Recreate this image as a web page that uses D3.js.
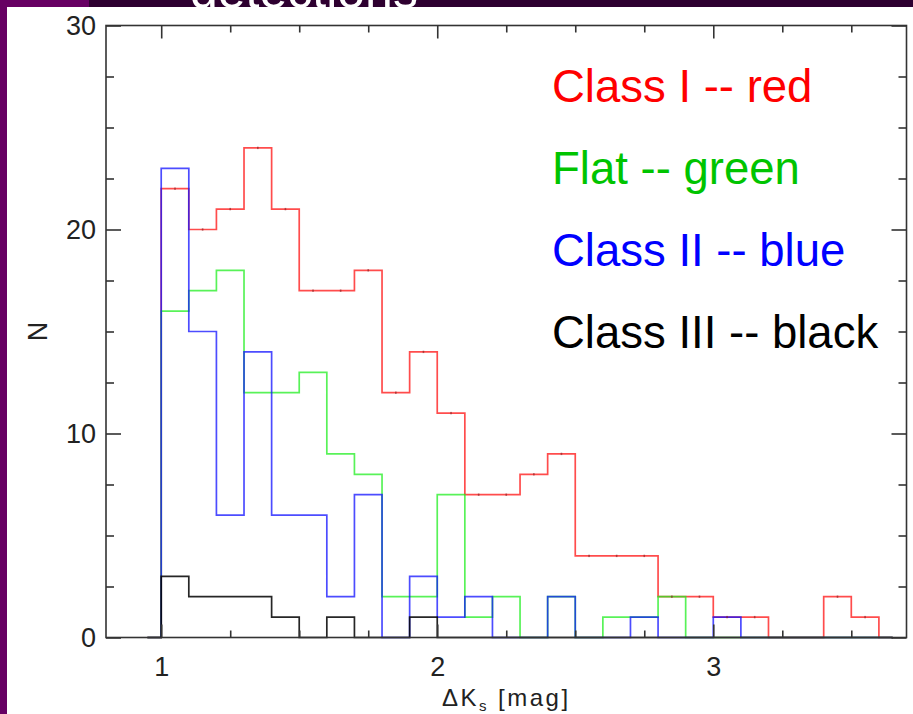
<!DOCTYPE html>
<html>
<head>
<meta charset="utf-8">
<script src="https://cdn.jsdelivr.net/npm/d3@7/dist/d3.min.js"></script>
<style>
  html, body { margin: 0; padding: 0; background: #ffffff; }
  svg { display: block; }
  .tick-label { font-family: "Liberation Sans", "DejaVu Sans", sans-serif; fill: #222; }
</style>
</head>
<body>
<svg id="chart" width="913" height="714"></svg>
<script>
// Histogram bin centres (ΔKs, mag), bin width 0.1
const binCenters = [0.95, 1.05, 1.15, 1.25, 1.35, 1.45, 1.55, 1.65, 1.75, 1.85,
                    1.95, 2.05, 2.15, 2.25, 2.35, 2.45, 2.55, 2.65, 2.75, 2.85,
                    2.95, 3.05, 3.15, 3.25, 3.35, 3.45, 3.55, 3.65];

// Counts per bin for each class
const classI   = [0, 22, 20, 21, 24, 21, 17, 17, 18, 12, 14, 11, 7, 7, 8, 9, 4, 4, 4, 2, 2, 1, 1, 0, 0, 2, 1, 0];
const flat     = [0, 16, 17, 18, 12, 12, 13, 9, 8, 2, 2, 7, 1, 2, 0, 2, 0, 1, 1, 2, 0, 0, 0, 0, 0, 0, 0, 0];
const classII  = [0, 23, 15, 6, 14, 6, 6, 2, 7, 0, 3, 1, 2, 0, 0, 2, 0, 0, 1, 0, 0, 1, 0, 0, 0, 0, 0, 0];
const classIII = [0, 3, 2, 2, 2, 1, 0, 1, 0, 0, 1, 0, 0, 0, 0, 0, 0, 0, 0, 0, 0, 0, 0, 0, 0, 0, 0, 0];

// Axis ticks
const xMajorTicks = [1, 2, 3];
const xMinorTicks = [1.25, 1.5, 1.75, 2.25, 2.5, 2.75, 3.25, 3.5];
const yMajorTicks = [0, 10, 20, 30];
const yMinorTicks = [2.5, 5, 7.5, 12.5, 15, 17.5, 22.5, 25, 27.5];

// Legend entries
const legendLabels = ["Class I -- red", "Flat -- green", "Class II -- blue", "Class III -- black"];
const legendColors = ["#ff0000", "#00c400", "#0000ff", "#000000"];

const series = [
  { name: "Class I",   values: classI,   color: "#ff1010" },
  { name: "Flat",      values: flat,     color: "#20ee20" },
  { name: "Class II",  values: classII,  color: "#1010ff" },
  { name: "Class III", values: classIII, color: "#000000" }
];

const svg = d3.select("#chart");

// Slide frame: purple strips on the left and top
svg.append("rect").attr("x", 0).attr("y", 0).attr("width", 913).attr("height", 714).attr("fill", "#ffffff");
svg.append("rect").attr("x", 89).attr("y", 0).attr("width", 824).attr("height", 7).attr("fill", "#2e0030");
svg.append("text")
  .attr("x", 190).attr("y", 8)
  .attr("font-family", "Liberation Sans, sans-serif")
  .attr("font-size", 50)
  .attr("fill", "#ffffff")
  .text("detections");
// white panel covers the part of the heading below the strip
svg.append("rect").attr("x", 7).attr("y", 7).attr("width", 906).attr("height", 707).attr("fill", "#ffffff");
svg.append("rect").attr("x", 0).attr("y", 0).attr("width", 89).attr("height", 7).attr("fill", "#670063");
svg.append("rect").attr("x", 0).attr("y", 0).attr("width", 7).attr("height", 714).attr("fill", "#670063");

// Plot area
const plotLeft = 106, plotRight = 906.5, plotTop = 25.5, plotBottom = 637.5;
const x = d3.scaleLinear().domain([0.8, 3.7]).range([plotLeft, plotRight]);
const y = d3.scaleLinear().domain([0, 30]).range([plotBottom, plotTop]);

const axisColor = "#333";
function styleAxis(g) {
  g.select(".domain").remove();
  g.selectAll(".tick line").attr("stroke", axisColor).attr("stroke-width", 1.6);
}

// Histogram step lines (IDL-style: steps at bin boundaries)
const line = d3.line()
  .x(d => x(d[0]))
  .y(d => y(d[1]))
  .curve(d3.curveStep);

const plot = svg.append("g");
series.forEach(s => {
  const pts = binCenters.map((c, i) => [c, s.values[i]]);
  plot.append("path")
    .attr("d", line(pts))
    .attr("fill", "none")
    .attr("stroke", s.color)
    .attr("stroke-width", 1.7)
    .attr("stroke-opacity", s.name === "Class III" ? 0.85 : 0.75);
});

// small marks at the bin centres of the Class I histogram
plot.selectAll("rect.mark")
  .data(binCenters.map((c, i) => [c, classI[i]]).filter(d => d[1] > 0))
  .join("rect")
  .attr("class", "mark")
  .attr("x", d => x(d[0]) - 0.8)
  .attr("y", d => y(d[1]) - 1.2)
  .attr("width", 1.6)
  .attr("height", 2.4)
  .attr("fill", "#802020")
  .attr("opacity", 0.6);

// Frame
svg.append("rect")
  .attr("x", plotLeft).attr("y", plotTop)
  .attr("width", plotRight - plotLeft).attr("height", plotBottom - plotTop)
  .attr("fill", "none").attr("stroke", axisColor).attr("stroke-width", 1.6);

// Bottom axis with labels
const gxb = svg.append("g").attr("transform", `translate(0,${plotBottom})`)
  .call(d3.axisBottom(x).tickValues(xMajorTicks).tickSize(-13).tickPadding(19).tickFormat(d3.format("d")));
styleAxis(gxb);
gxb.selectAll(".tick text").attr("class", "tick-label").attr("font-size", 27).attr("fill", "#222");
const gxbm = svg.append("g").attr("transform", `translate(0,${plotBottom})`)
  .call(d3.axisBottom(x).tickValues(xMinorTicks).tickSize(-7).tickFormat(""));
styleAxis(gxbm);

// Top axis, ticks only
const gxt = svg.append("g").attr("transform", `translate(0,${plotTop})`)
  .call(d3.axisTop(x).tickValues(xMajorTicks).tickSize(-13).tickFormat(""));
styleAxis(gxt);
const gxtm = svg.append("g").attr("transform", `translate(0,${plotTop})`)
  .call(d3.axisTop(x).tickValues(xMinorTicks).tickSize(-7).tickFormat(""));
styleAxis(gxtm);

// Left axis with labels
const gyl = svg.append("g").attr("transform", `translate(${plotLeft},0)`)
  .call(d3.axisLeft(y).tickValues(yMajorTicks).tickSize(-15).tickPadding(10).tickFormat(d3.format("d")));
styleAxis(gyl);
gyl.selectAll(".tick text").attr("class", "tick-label").attr("font-size", 27).attr("fill", "#222");
const gylm = svg.append("g").attr("transform", `translate(${plotLeft},0)`)
  .call(d3.axisLeft(y).tickValues(yMinorTicks).tickSize(-8).tickFormat(""));
styleAxis(gylm);

// Right axis, ticks only
const gyr = svg.append("g").attr("transform", `translate(${plotRight},0)`)
  .call(d3.axisRight(y).tickValues(yMajorTicks).tickSize(-15).tickFormat(""));
styleAxis(gyr);
const gyrm = svg.append("g").attr("transform", `translate(${plotRight},0)`)
  .call(d3.axisRight(y).tickValues(yMinorTicks).tickSize(-8).tickFormat(""));
styleAxis(gyrm);

// Axis titles
const xTitle = svg.append("text")
  .attr("x", (plotLeft + plotRight) / 2).attr("y", 706)
  .attr("text-anchor", "middle")
  .attr("class", "tick-label")
  .attr("font-size", 24)
  .attr("letter-spacing", 2.5);
xTitle.append("tspan").text("ΔK");
xTitle.append("tspan").attr("font-size", 15).attr("dy", 5).text("s");
xTitle.append("tspan").attr("dy", -5).text(" [mag]");

svg.append("text")
  .attr("transform", `translate(47,${(plotTop + plotBottom) / 2}) rotate(-90)`)
  .attr("text-anchor", "middle")
  .attr("class", "tick-label")
  .attr("font-size", 27)
  .text("N");

// Legend
const legendY = [101.5, 184, 266, 348];
svg.selectAll("text.legend")
  .data(legendLabels)
  .join("text")
  .attr("class", "legend")
  .attr("x", 552)
  .attr("y", (d, i) => legendY[i])
  .attr("font-family", "Liberation Sans, Arial, sans-serif")
  .attr("font-size", 45.5)
  .attr("fill", (d, i) => legendColors[i])
  .text(d => d);
</script>
</body>
</html>
